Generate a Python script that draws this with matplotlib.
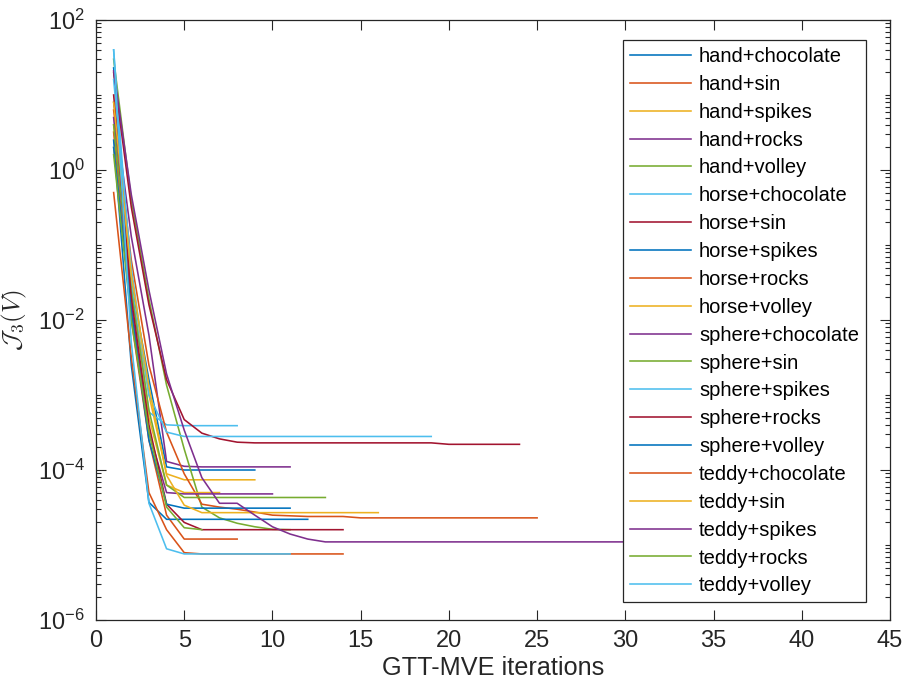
import matplotlib
matplotlib.use('Agg')
import matplotlib.pyplot as plt
from matplotlib.ticker import FixedLocator, FixedFormatter, NullFormatter

plt.rcParams['font.family'] = ['Liberation Sans', 'DejaVu Sans']
plt.rcParams['mathtext.fontset'] = 'cm'

labels = ['hand+chocolate', 'hand+sin', 'hand+spikes', 'hand+rocks', 'hand+volley',
          'horse+chocolate', 'horse+sin', 'horse+spikes', 'horse+rocks', 'horse+volley',
          'sphere+chocolate', 'sphere+sin', 'sphere+spikes', 'sphere+rocks', 'sphere+volley',
          'teddy+chocolate', 'teddy+sin', 'teddy+spikes', 'teddy+rocks', 'teddy+volley']

hand_chocolate = [23, 3.2e-2, 1.6e-3, 1.1e-4, 1.0e-4, 1.0e-4, 1.0e-4, 1.0e-4, 1.0e-4]
hand_sin = [3.2, 1.0e-2, 2.5e-4, 2.5e-5, 1.2e-5, 1.2e-5, 1.2e-5, 1.2e-5]
hand_spikes = [4.0, 2.5e-2, 1.0e-3, 8.9e-5, 7.4e-5, 7.4e-5, 7.4e-5, 7.4e-5, 7.4e-5]
hand_rocks = [8.0, 1.3e-1, 6.3e-3, 1.3e-4, 1.12e-4, 1.1e-4, 1.1e-4, 1.1e-4, 1.1e-4, 1.1e-4, 1.1e-4]
hand_volley = [30, 0.4, 1.9e-2, 1.35e-3, 1.9e-4, 3.2e-5, 2.3e-5, 1.95e-5, 1.75e-5, 1.62e-5, 1.6e-5]
horse_chocolate = [40, 3.2e-2, 5.9e-4, 4.0e-4, 3.9e-4, 3.9e-4, 3.9e-4, 3.9e-4]
horse_sin = [20, 0.32, 1.6e-2, 1.6e-3, 4.7e-4, 3.1e-4, 2.6e-4, 2.35e-4,
             2.3e-4, 2.3e-4, 2.3e-4, 2.3e-4, 2.3e-4, 2.3e-4, 2.3e-4, 2.3e-4,
             2.3e-4, 2.3e-4, 2.3e-4, 2.2e-4, 2.2e-4, 2.2e-4, 2.2e-4, 2.2e-4]
horse_spikes = [2.5, 2.5e-3, 3.7e-5, 2.2e-5, 2.2e-5, 2.2e-5, 2.2e-5, 2.2e-5, 2.2e-5, 2.2e-5, 2.2e-5, 2.2e-5]
horse_rocks = [6.3, 6.3e-2, 2.5e-3, 3.2e-4, 8.9e-5, 3.5e-5, 3.2e-5, 3.0e-5, 2.75e-5, 2.5e-5,
               2.45e-5, 2.4e-5, 2.4e-5, 2.4e-5, 2.3e-5, 2.3e-5, 2.3e-5, 2.3e-5, 2.3e-5, 2.3e-5,
               2.3e-5, 2.3e-5, 2.3e-5, 2.3e-5, 2.3e-5]
horse_volley = [2.0, 1.3e-2, 5.0e-4, 6.3e-5, 5.0e-5, 5.0e-5, 5.0e-5]
sphere_chocolate = [5.0, 1.6e-2, 3.2e-4, 5.0e-5, 4.8e-5, 4.8e-5, 4.8e-5, 4.8e-5, 4.8e-5, 4.8e-5]
sphere_sin = [4.0, 2.5e-2, 6.3e-4, 6.3e-5, 4.3e-5, 4.3e-5, 4.3e-5, 4.3e-5, 4.3e-5, 4.3e-5, 4.3e-5, 4.3e-5, 4.3e-5]
sphere_spikes = [16, 5.0e-2, 1.0e-3, 3.2e-4, 2.8e-4, 2.8e-4, 2.8e-4, 2.8e-4, 2.8e-4, 2.8e-4,
                 2.8e-4, 2.8e-4, 2.8e-4, 2.8e-4, 2.8e-4, 2.8e-4, 2.8e-4, 2.8e-4, 2.8e-4]
sphere_rocks = [10, 2.0e-2, 4.0e-4, 3.5e-5, 2.0e-5, 1.6e-5, 1.6e-5, 1.6e-5, 1.6e-5, 1.6e-5, 1.6e-5, 1.6e-5, 1.6e-5, 1.6e-5]
sphere_volley = [2.0, 1.3e-2, 2.5e-4, 3.5e-5, 3.1e-5, 3.1e-5, 3.1e-5, 3.1e-5, 3.1e-5, 3.1e-5, 3.1e-5]
teddy_chocolate = [0.5, 3.2e-3, 5.0e-5, 1.6e-5, 7.9e-6, 7.6e-6, 7.6e-6, 7.6e-6, 7.6e-6, 7.6e-6, 7.6e-6, 7.6e-6, 7.6e-6, 7.6e-6]
teddy_sin = [8.0, 4.0e-2, 1.3e-3, 8.5e-5, 3.4e-5, 2.7e-5, 2.7e-5, 2.7e-5, 2.7e-5, 2.7e-5, 2.7e-5, 2.7e-5, 2.7e-5, 2.7e-5, 2.7e-5, 2.7e-5]
teddy_spikes = [21, 0.47, 2.5e-2, 1.9e-3, 3.4e-4, 7.9e-5, 3.6e-5, 3.6e-5, 2.5e-5, 1.75e-5, 1.4e-5, 1.2e-5,
                1.1e-5, 1.1e-5, 1.1e-5, 1.1e-5, 1.1e-5, 1.1e-5, 1.1e-5, 1.1e-5, 1.1e-5, 1.1e-5,
                1.1e-5, 1.1e-5, 1.1e-5, 1.1e-5, 1.1e-5, 1.1e-5, 1.1e-5, 1.1e-5, 1.1e-5, 1.1e-5,
                1.1e-5, 1.1e-5, 1.1e-5, 1.1e-5, 1.1e-5, 1.1e-5, 1.1e-5, 1.1e-5, 1.1e-5, 1.1e-5]
teddy_rocks = [1.6, 1.0e-2, 3.2e-4, 3.2e-5, 1.7e-5, 1.6e-5]
teddy_volley = [40, 5.0e-3, 3.6e-5, 8.9e-6, 7.6e-6, 7.6e-6, 7.6e-6, 7.6e-6, 7.6e-6, 7.6e-6, 7.6e-6]

series = [hand_chocolate, hand_sin, hand_spikes, hand_rocks, hand_volley,
          horse_chocolate, horse_sin, horse_spikes, horse_rocks, horse_volley,
          sphere_chocolate, sphere_sin, sphere_spikes, sphere_rocks, sphere_volley,
          teddy_chocolate, teddy_sin, teddy_spikes, teddy_rocks, teddy_volley]

colors = ['#0072BD', '#D95319', '#EDB120', '#7E2F8E', '#77AC30', '#4DBEEE', '#A2142F']

y_ticks = [1e-6, 1e-4, 1e-2, 1e0, 1e2]
y_ticklabels = [r'$\mathregular{10^{-6}}$', r'$\mathregular{10^{-4}}$', r'$\mathregular{10^{-2}}$',
                r'$\mathregular{10^{0}}$', r'$\mathregular{10^{2}}$']
x_ticks = [0, 5, 10, 15, 20, 25, 30, 35, 40, 45]

axcol = '#262626'
fig = plt.figure(figsize=(9.03, 6.88), dpi=100)
fig.patch.set_facecolor('white')
ax = fig.add_axes([96 / 903, 1 - 620 / 688, 794 / 903, 600 / 688])

for i, (lab, vals) in enumerate(zip(labels, series)):
    xs = list(range(1, len(vals) + 1))
    ax.plot(xs, vals, color=colors[i % 7], lw=1.15, label=lab)

ax.set_yscale('log')
ax.set_xlim(0, 45)
ax.set_ylim(1e-6, 1e2)

ax.yaxis.set_major_locator(FixedLocator(y_ticks))
ax.yaxis.set_major_formatter(FixedFormatter(y_ticklabels))
minor = []
for e in range(-6, 2):
    for m in range(1, 10):
        v = m * 10.0 ** e
        if m == 1 and e % 2 == 0:
            continue
        minor.append(v)
ax.yaxis.set_minor_locator(FixedLocator(minor))
ax.yaxis.set_minor_formatter(NullFormatter())
ax.set_xticks(x_ticks)

ax.tick_params(axis='both', which='both', direction='in', top=True, right=True,
               colors=axcol, labelcolor=axcol, width=0.8)
ax.tick_params(axis='both', which='major', length=7, labelsize=17)
ax.tick_params(axis='both', which='minor', length=3.5)
ax.tick_params(axis='y', which='major', pad=8)
ax.tick_params(axis='x', which='major', pad=7)
for s in ax.spines.values():
    s.set_color(axcol)
    s.set_linewidth(0.9)

ax.set_xlabel('GTT-MVE iterations', fontsize=18.2, color=axcol, labelpad=3)
ax.set_ylabel(r'$\mathcal{J}_3(V)$', fontsize=18, color=axcol)
ax.yaxis.set_label_coords(-0.085, 0.5)

leg = ax.legend(loc='upper right', bbox_to_anchor=((866 - 96) / 794, 1 - 20 / 600),
                borderaxespad=0, fontsize=14.5, handlelength=3.0, handletextpad=0.4,
                labelspacing=0.44, borderpad=0.35, fancybox=False, framealpha=1)
leg.get_frame().set_edgecolor(axcol)
leg.get_frame().set_linewidth(0.9)
for t in leg.get_texts():
    t.set_color('#000000')

fig.savefig('out.png', dpi=100, facecolor='white')
